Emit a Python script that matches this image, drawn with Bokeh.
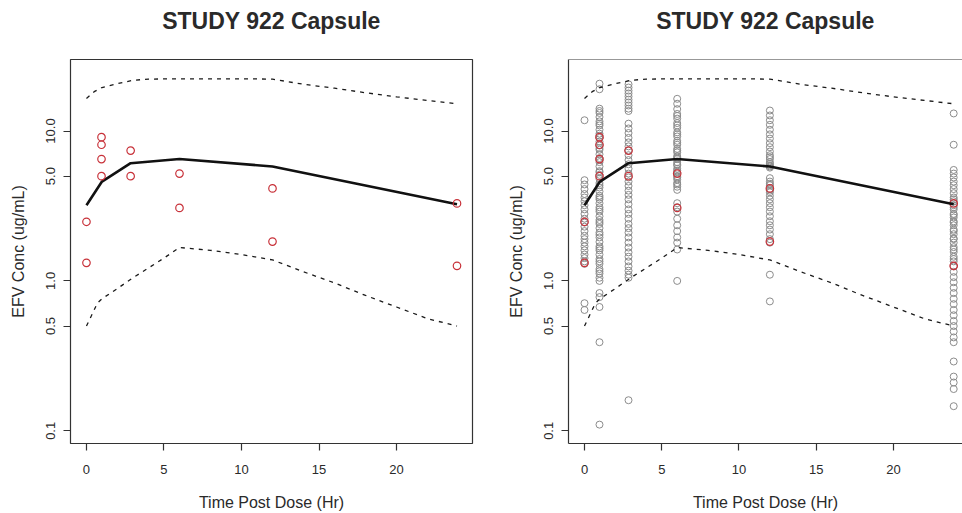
from bokeh.plotting import figure
from bokeh.layouts import row
from bokeh.models import Range1d, FixedTicker, CustomJSTickFormatter, Span, LinearAxis
from bokeh.embed import file_html
from bokeh.resources import INLINE

# ---------------- data ----------------
x_ticks = [0, 5, 10, 15, 20]
y_ticks = [0.1, 0.5, 1.0, 5.0, 10.0]

median_t = [0, 1, 2.85, 6, 12, 23.9]
median_c = [3.2, 4.6, 6.1, 6.5, 5.8, 3.25]

upper_t = [0, 0.5, 1, 2, 3, 4, 6, 8, 10, 12, 14, 16, 18, 20, 22, 23.9]
upper_c = [16.5, 18.3, 19.5, 20.7, 21.8, 22.2, 22.3, 22.3, 22.3, 22.2, 20.5, 19.3, 18.0, 16.9, 16.0, 15.2]

lower_t = [0, 0.4, 0.7, 1, 2, 3, 4, 5, 6, 8, 10, 12, 14, 16, 18, 20, 22, 23.9]
lower_c = [0.5, 0.61, 0.71, 0.76, 0.89, 1.05, 1.22, 1.42, 1.67, 1.6, 1.5, 1.38, 1.15, 0.97, 0.8, 0.67, 0.56, 0.5]

# observed study 922 capsule (red)
study_t = [0, 0, 0.97, 0.97, 0.97, 0.97, 2.85, 2.85, 6, 6, 12, 12, 23.9, 23.9]
study_c = [2.48, 1.32, 9.1, 8.1, 6.5, 5.0, 7.4, 5.0, 5.2, 3.07, 4.14, 1.83, 3.29, 1.26]

# all studies observed (gray)
gray_t0 = [11.8, 4.7, 4.4, 4.1, 3.8, 3.6, 3.4, 3.2, 3.0, 2.8, 2.6, 2.45, 2.3, 2.15, 2.0,
           1.9, 1.8, 1.7, 1.6, 1.5, 1.42, 1.35, 1.3, 0.71, 0.64]
gray_t1 = [20.7, 19.0, 14.1, 13.2, 12.4, 11.6, 10.9, 10.2, 9.6, 9.0, 8.5, 8.0, 7.5, 7.0, 6.6,
           6.2, 5.8, 5.4, 5.1, 4.8, 4.5, 4.2, 3.95, 3.7, 3.5, 3.3, 3.1, 2.9, 2.7, 2.55, 2.4,
           2.25, 2.1, 1.95, 1.82, 1.7, 1.6, 1.5, 1.4, 1.3, 1.2, 1.12, 1.05, 1.0, 0.83, 0.78,
           0.67, 0.39, 0.11, 13.6, 11.2, 9.3, 7.7, 6.4, 5.3, 4.35, 3.6, 3.0, 2.47, 2.03, 1.65,
           1.35, 1.16]
gray_t3 = [20.5, 19.5, 18.6, 17.8, 17.0, 16.2, 15.5, 14.8, 14.1, 13.6, 11.2, 10.4, 9.7, 9.0,
           8.4, 7.9, 7.4, 6.9, 6.4, 6.0, 5.6, 5.2, 4.9, 4.6, 4.3, 4.0, 3.75, 3.5, 3.25, 3.0,
           2.8, 2.6, 2.4, 2.25, 2.1, 1.95, 1.8, 1.67, 1.55, 1.45, 1.35, 1.25, 1.17, 1.1, 1.05,
           0.16]
gray_t6 = [16.4, 15.2, 14.0, 13.0, 12.1, 11.3, 10.5, 9.8, 9.2, 8.6, 8.1, 7.6, 7.2, 6.8, 6.5,
           6.2, 5.9, 5.6, 5.3, 5.0, 4.75, 4.5, 4.25, 4.05, 3.3, 3.1, 2.9, 2.6, 2.35, 2.15,
           1.95, 1.8, 1.62, 1.0, 12.6, 10.9, 9.5, 8.35, 7.4, 6.65, 6.0, 5.45, 4.9, 4.4]
gray_t12 = [13.7, 12.7, 11.8, 11.0, 10.2, 9.5, 8.9, 8.3, 7.8, 7.3, 6.9, 6.5, 6.2, 5.9, 5.7,
            4.85, 4.6, 4.35, 4.1, 3.9, 3.7, 3.5, 3.3, 3.1, 2.9, 2.7, 2.5, 2.35, 2.2, 2.05,
            1.9, 1.8, 1.1, 0.73, 6.7, 6.05, 5.8, 4.45, 4.0]
gray_t24 = [13.1, 8.1, 5.5, 5.2, 4.9, 4.6, 4.35, 4.1, 3.85, 3.6, 3.4, 3.2, 3.0, 2.8, 2.65,
            2.5, 2.35, 2.2, 2.05, 1.92, 1.8, 1.68, 1.56, 1.45, 1.35, 1.25, 1.15, 1.06, 0.98,
            0.9, 0.83, 0.76, 0.7, 0.64, 0.59, 0.54, 0.5, 0.46, 0.42, 0.39, 0.29, 0.23, 0.21,
            0.19, 0.146, 3.5, 3.1, 2.75, 2.45, 2.15, 1.9, 1.62, 1.4]
gray_times = [0, 0.97, 2.85, 6, 12, 23.9]

title_text = "STUDY 922 Capsule"

TEXT = "#2a2a2a"
FONT = "Liberation Sans"
Y0, Y1 = 0.0823, 30.0
HEIGHT, B_TOP, B_BOTTOM = 513, 59, 69


def make_fig(xr, width, b_left, b_right, outline):
    p = figure(width=width, height=HEIGHT, x_range=Range1d(*xr), y_range=Range1d(Y0, Y1),
               y_axis_type="log", output_backend="svg", toolbar_location=None,
               min_border_left=b_left, min_border_right=b_right,
               min_border_top=B_TOP, min_border_bottom=B_BOTTOM)
    p.background_fill_color = "white"
    p.border_fill_color = "white"
    p.grid.visible = False
    if outline:
        p.outline_line_color = "#333333"
        p.outline_line_width = 1.2
    else:
        p.outline_line_color = None

    for ax in (p.xaxis[0], p.yaxis[0]):
        ax.major_tick_out = 7
        ax.major_tick_in = 0
        ax.minor_tick_out = 0
        ax.minor_tick_in = 0
        ax.major_tick_line_color = "#333333"
        ax.major_tick_line_width = 1.2
        ax.axis_line_color = None if outline else "#333333"
        ax.axis_line_width = 1.2
        ax.major_label_text_font = FONT
        ax.major_label_text_font_size = "13px"
        ax.major_label_text_color = TEXT
        ax.axis_label_text_font = FONT
        ax.axis_label_text_font_size = "16px"
        ax.axis_label_text_font_style = "normal"
        ax.axis_label_text_color = TEXT

    p.xaxis.ticker = FixedTicker(ticks=x_ticks)
    p.xaxis.axis_label = "Time Post Dose (Hr)"
    p.xaxis.major_label_standoff = 14
    p.xaxis.axis_label_standoff = 17

    p.yaxis.ticker = FixedTicker(ticks=y_ticks)
    p.yaxis.formatter = CustomJSTickFormatter(code="return tick.toFixed(1);")
    p.yaxis.major_label_orientation = "vertical"
    p.yaxis.axis_label = "EFV Conc (ug/mL)"
    p.yaxis.major_label_standoff = 8
    p.yaxis.axis_label_standoff = 17

    if not outline:
        p.add_layout(Span(location=Y1, dimension="width", line_color="#333333", line_width=1.2))

    # title as the label of an empty axis above the frame
    tax = LinearAxis(ticker=FixedTicker(ticks=[]), axis_label=title_text)
    tax.axis_line_color = None
    tax.major_tick_line_color = None
    tax.minor_tick_line_color = None
    tax.major_label_text_font_size = "0px"
    tax.axis_label_text_font = FONT
    tax.axis_label_text_font_size = "23px"
    tax.axis_label_text_font_style = "bold"
    tax.axis_label_text_color = TEXT
    tax.axis_label_standoff = 26
    p.add_layout(tax, "above")
    return p


def add_lines(p):
    p.line(upper_t, upper_c, line_color="#1a1a1a", line_width=1.3, line_dash="4 5")
    p.line(lower_t, lower_c, line_color="#1a1a1a", line_width=1.3, line_dash="4 5")
    p.line(median_t, median_c, line_color="#111111", line_width=2.6)


def add_red(p):
    p.scatter(study_t, study_c, marker="circle", size=7.5, fill_color=None,
              line_color="#c8323a", line_width=1.2)


# left panel
left = make_fig((-1.03, 24.9), 490, 70, 18, True)
add_lines(left)
add_red(left)

# right panel (frame is cut at the window edge)
right = make_fig((-1.036, 24.47), 472, 78, 0, False)
gray_sets = [gray_t0, gray_t1, gray_t3, gray_t6, gray_t12, gray_t24]
gx, gy = [], []
for t, vals in zip(gray_times, gray_sets):
    gx += [t] * len(vals)
    gy += vals
right.scatter(gx, gy, marker="circle", size=7, fill_color=None,
              line_color="#8c8c8c", line_width=1.0)
add_red(right)
add_lines(right)

layout = row(left, right, spacing=0)
open("out.html", "w").write(file_html(layout, INLINE))
